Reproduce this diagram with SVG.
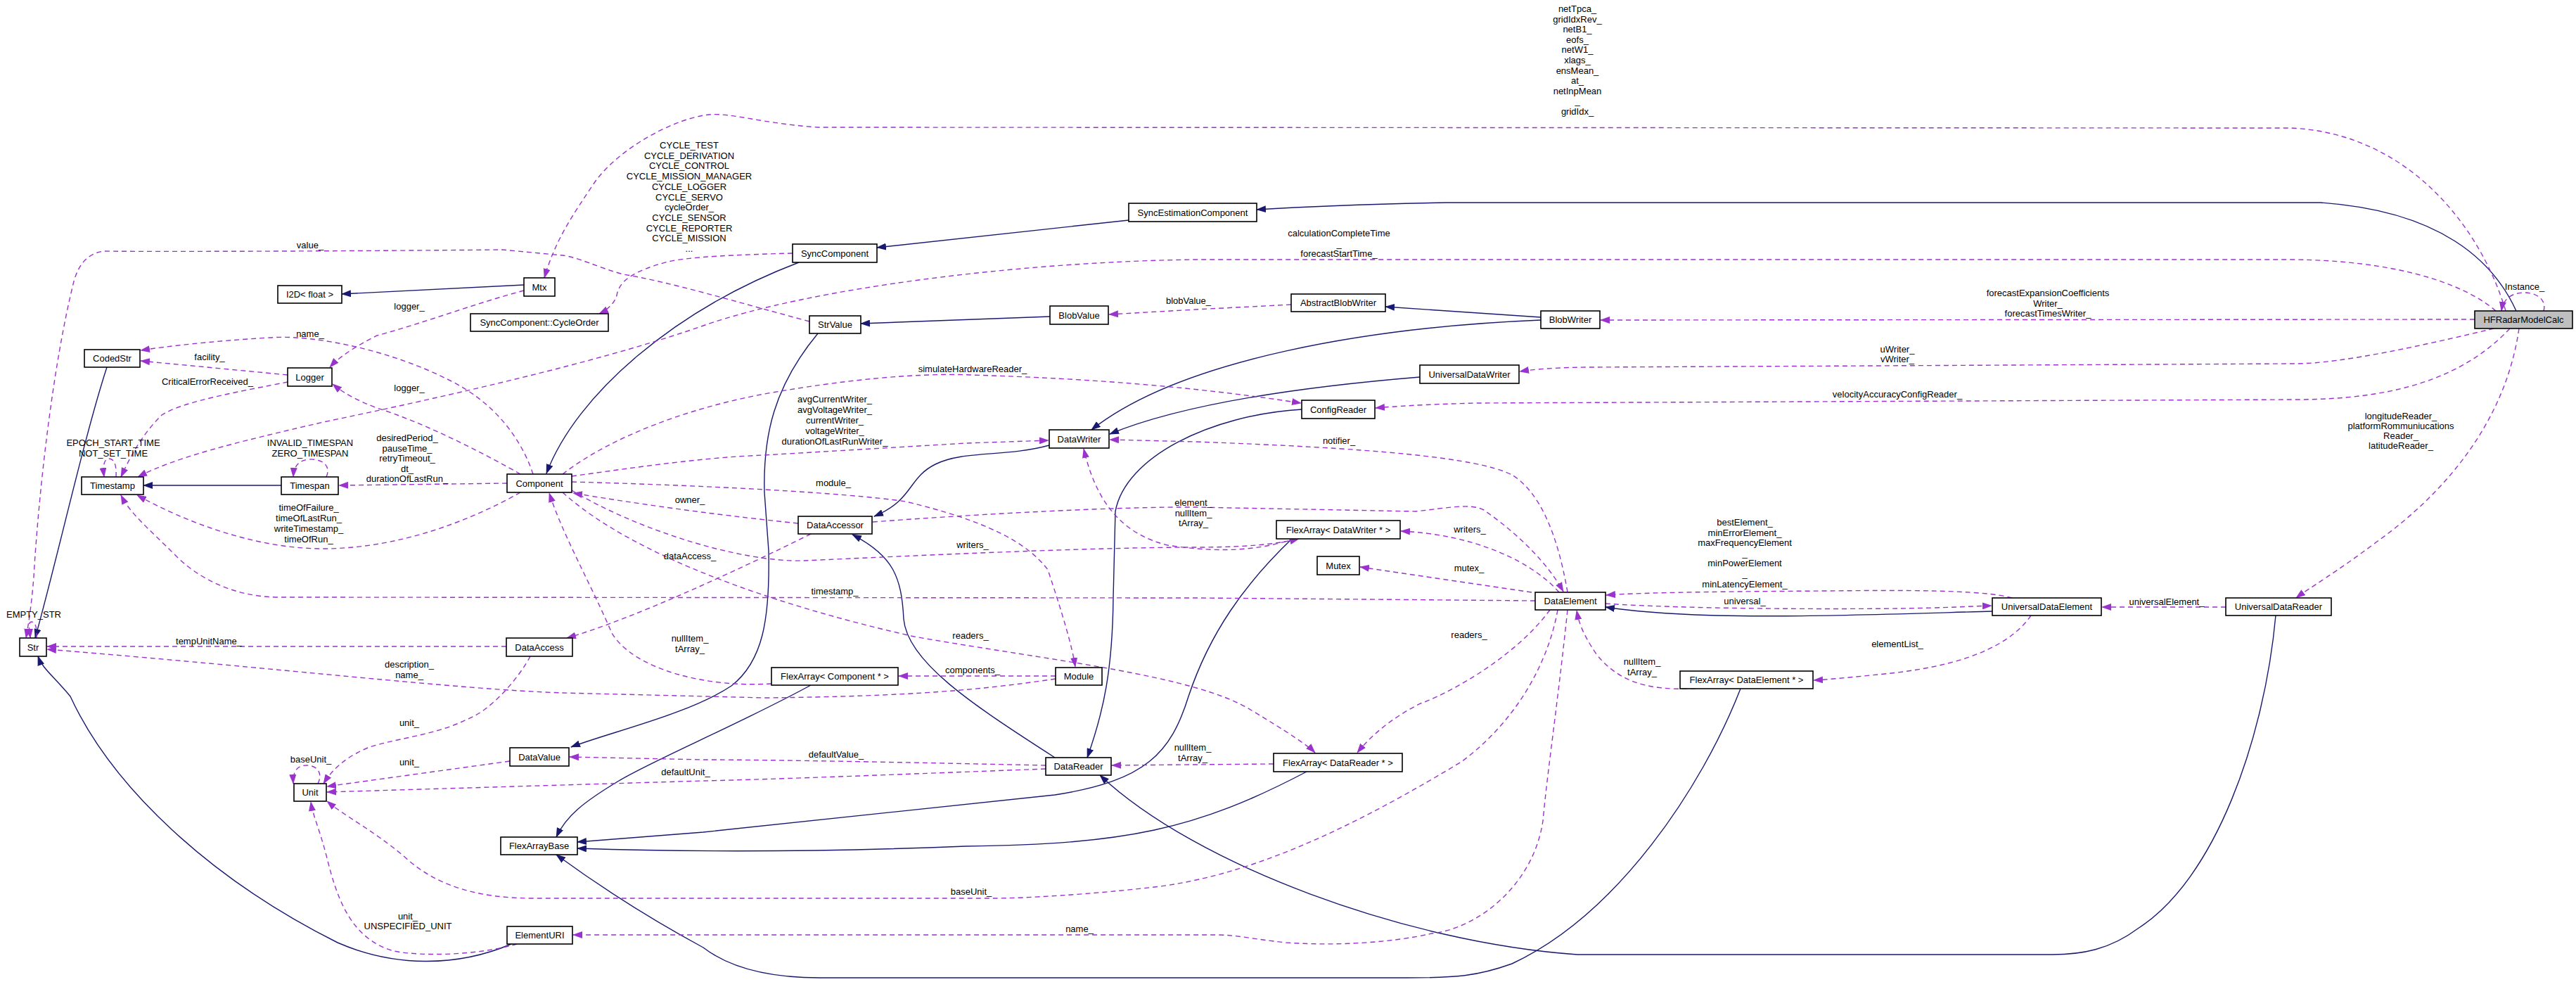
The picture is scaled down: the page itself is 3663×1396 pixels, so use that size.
<svg xmlns="http://www.w3.org/2000/svg" width="3663" height="1396" viewBox="0 0 3663 1396">
<style>
.n rect{fill:#fff;stroke:#000;stroke-width:1.6}
.n.hl rect{fill:#bfbfbf}
text{font-family:"Liberation Sans",Arial,Helvetica,sans-serif;font-size:13px;fill:#000;text-anchor:middle}
.u{fill:none;stroke:#9a32cd;stroke-width:1.4;stroke-dasharray:7,5;marker-end:url(#ap)}
.i{fill:none;stroke:#191970;stroke-width:1.4;marker-end:url(#an)}
</style>
<defs>
<marker id="ap" markerWidth="14" markerHeight="10" refX="13" refY="5" orient="auto" markerUnits="userSpaceOnUse"><path d="M0,0 L14,5 L0,10 z" fill="#9a32cd"/></marker>
<marker id="an" markerWidth="14" markerHeight="10" refX="13" refY="5" orient="auto" markerUnits="userSpaceOnUse"><path d="M0,0 L14,5 L0,10 z" fill="#191970"/></marker>
</defs>
<rect width="3663" height="1396" fill="#fff"/>
<g id="edges">
<path class="i" d="M745,405 L486,418"/>
<path class="i" d="M1605,313 L1247,352"/>
<path class="i" d="M3578,442 C3545,370 3470,300 3300,288 L2057,288 C1950,290 1850,294 1787,298"/>
<path class="i" d="M1136,373 C960,440 820,560 777,673"/>
<path class="i" d="M1163,474 C1100,550 1085,620 1087,700 L1093,783 C1095,880 1085,940 1040,975 C980,1015 870,1040 812,1062"/>
<path class="i" d="M1493,450 L1224,460"/>
<path class="i" d="M2191,451 L1970,436"/>
<path class="i" d="M2191,455 C1950,465 1680,510 1552,611"/>
<path class="i" d="M2019,536 C1850,550 1680,575 1578,617"/>
<path class="i" d="M1851,582 C1720,590 1600,650 1586,727 L1583,850 C1582,950 1570,1010 1546,1077"/>
<path class="i" d="M1492,633 C1430,650 1370,640 1330,660 C1290,680 1300,710 1243,734"/>
<path class="i" d="M1500,1077 C1380,1000 1290,940 1285,880 C1282,820 1270,790 1212,760"/>
<path class="i" d="M1837,766 C1770,830 1720,900 1690,990 C1665,1070 1630,1110 1500,1130 L1000,1183 L821,1197"/>
<path class="i" d="M1858,1097 C1700,1180 1600,1200 1373,1203 C1200,1210 1000,1212 821,1206"/>
<path class="i" d="M1153,974 C1050,1030 930,1080 880,1110 C830,1140 805,1160 791,1190"/>
<path class="i" d="M727,1342 C650,1375 560,1375 480,1340 C300,1250 160,1120 100,990 C75,960 60,950 54,933"/>
<path class="i" d="M152,522 C120,620 80,800 50,907"/>
<path class="i" d="M400,690 L204,690"/>
<path class="i" d="M2475,979 C2420,1120 2300,1300 2150,1370 C2100,1388 2070,1390 2000,1390 L1166,1390 C1080,1390 1030,1370 1000,1347 C950,1320 880,1280 791,1215"/>
<path class="i" d="M3236,875 C3220,1050 3150,1250 3040,1320 C3000,1350 2960,1357 2918,1357 L2243,1357 C2000,1340 1700,1230 1564,1102"/>
<path class="i" d="M2833,869 C2650,874 2420,884 2283,863"/>
<path class="u" d="M3563,442 C3530,330 3430,190 3258,182 L1163,181 C1080,175 1040,160 1008,163 C960,168 880,210 845,260 C815,305 790,340 774,395"/>
<path class="u" d="M3617,442 C3622,425 3605,416 3590,416 C3575,416 3560,422 3557,442"/>
<path class="u" d="M3549,442 C3500,400 3400,370 3258,369 L1700,369 C1450,372 1150,410 1000,463 C880,505 700,550 460,600 C330,630 250,650 196,678"/>
<path class="u" d="M3519,454 L2276,455"/>
<path class="u" d="M3546,467 C3450,490 3330,517 3264,517 L2261,522 C2220,522 2180,525 2161,528"/>
<path class="u" d="M3569,467 C3500,540 3400,568 3264,568 L2100,573 C2020,575 1980,578 1956,580"/>
<path class="u" d="M3582,467 C3560,620 3450,720 3380,770 C3320,815 3285,835 3265,850"/>
<path class="u" d="M3165,863 L2989,863"/>
<path class="u" d="M2861,850 C2820,838 2700,839 2600,840 C2450,841 2340,842 2284,846"/>
<path class="u" d="M2283,858 C2400,866 2600,866 2700,865 C2770,864 2800,862 2832,861"/>
<path class="u" d="M2888,875 C2850,930 2760,950 2680,958 C2630,963 2600,966 2579,967"/>
<path class="u" d="M2411,979 C2338,982 2300,967 2270,930 C2250,900 2245,885 2242,868"/>
<path class="u" d="M2217,842 C2180,800 2100,760 1992,755"/>
<path class="u" d="M2178,842 L1934,806"/>
<path class="u" d="M2229,842 C2215,760 2190,700 2150,675 C2100,650 1950,637 1700,628 L1578,625"/>
<path class="u" d="M2204,867 C2150,940 2050,990 2020,1000 C1980,1020 1950,1045 1930,1070"/>
<path class="u" d="M2183,854 L1700,850 L398,849 C330,849 280,820 250,790 C210,750 185,730 172,704"/>
<path class="u" d="M1241,742 C1400,730 1600,720 1700,721 L2013,727 C2060,722 2090,715 2110,725 C2160,760 2200,800 2223,841"/>
<path class="u" d="M1840,766 C1780,786 1720,784 1660,775 C1600,760 1560,720 1541,638"/>
<path class="u" d="M813,697 C900,750 1050,800 1144,797 C1300,790 1550,778 1700,778 C1760,778 1810,775 1847,766"/>
<path class="u" d="M813,685 C1000,690 1200,700 1288,713 C1400,740 1460,770 1490,810 C1510,870 1525,920 1529,948"/>
<path class="u" d="M1135,744 C1000,730 900,715 815,701"/>
<path class="u" d="M1153,759 C1050,810 900,880 806,907"/>
<path class="u" d="M1097,972 C1000,978 900,950 870,900 C840,830 800,760 781,701"/>
<path class="u" d="M800,700 C900,790 1100,860 1300,905 C1500,940 1700,960 1780,1010 C1830,1040 1860,1060 1870,1070"/>
<path class="u" d="M800,674 C870,620 980,580 1087,560 C1200,540 1300,530 1380,533 C1550,538 1700,550 1850,573"/>
<path class="u" d="M813,677 C900,665 1000,650 1087,647 L1374,630 L1491,626"/>
<path class="u" d="M740,674 C680,640 600,600 536,580 C510,570 490,560 473,546"/>
<path class="u" d="M758,674 C740,620 700,570 638,540 C560,500 450,475 383,480 C300,485 240,492 200,498"/>
<path class="u" d="M745,413 C680,430 600,460 536,477 C500,495 480,510 469,522"/>
<path class="u" d="M409,533 L200,513"/>
<path class="u" d="M409,543 C350,555 260,570 230,590 C200,620 185,650 172,678"/>
<path class="u" d="M165,678 C166,660 162,652 155,652 C148,652 146,662 148,678"/>
<path class="u" d="M464,678 C472,660 455,652 440,653 C425,654 418,662 417,678"/>
<path class="u" d="M721,687 L482,690"/>
<path class="u" d="M740,700 C660,745 560,780 459,780 C360,780 260,740 195,704"/>
<path class="u" d="M1151,457 C1050,430 950,400 886,390 C850,380 820,365 800,363 L714,355 C500,357 200,358 148,357 C125,360 112,375 105,400 C75,520 55,700 48,820 C45,860 40,890 37,907"/>
<path class="u" d="M52,907 C53,892 50,884 45,884 C39,884 42,895 43,907"/>
<path class="u" d="M1127,360 C1050,362 980,365 950,372 C900,385 880,400 877,420 C872,435 860,442 852,446"/>
<path class="u" d="M1836,433 L1700,440 L1577,447"/>
<path class="u" d="M1501,961 L1278,961"/>
<path class="u" d="M1501,965 C1400,980 1300,990 1087,992 L800,985 C650,980 400,950 67,923"/>
<path class="u" d="M720,919 L67,919"/>
<path class="u" d="M754,933 C740,960 700,1010 663,1023 C620,1045 560,1050 523,1063 C495,1075 475,1090 460,1114"/>
<path class="u" d="M452,1114 C460,1098 450,1088 436,1088 C423,1088 416,1096 417,1114"/>
<path class="u" d="M725,1082 L465,1118"/>
<path class="u" d="M1487,1088 C1300,1084 1100,1080 1000,1080 L810,1076"/>
<path class="u" d="M1487,1093 C1300,1100 1100,1108 1000,1110 L465,1126"/>
<path class="u" d="M1811,1086 L1581,1088"/>
<path class="u" d="M2215,867 C2200,950 2150,1030 2078,1083 C1950,1160 1800,1240 1650,1260 C1550,1272 1450,1277 1415,1277 L760,1277 C680,1277 620,1260 574,1217 C530,1180 490,1160 465,1139"/>
<path class="u" d="M2229,867 C2215,1000 2200,1100 2194,1167 C2180,1260 2100,1320 2036,1327 C1980,1340 1900,1345 1829,1340 C1780,1335 1760,1329 1730,1329 L815,1329"/>
<path class="u" d="M735,1342 C680,1358 600,1360 560,1352 C500,1335 480,1280 465,1220 C455,1180 445,1160 442,1140"/>
</g>
<g id="edge-labels">
<text><tspan x="2243" y="17">netTpca_</tspan><tspan x="2243" dy="14.6">gridIdxRev_</tspan><tspan x="2243" dy="14.6">netB1_</tspan><tspan x="2243" dy="14.6">eofs_</tspan><tspan x="2243" dy="14.6">netW1_</tspan><tspan x="2243" dy="14.6">xlags_</tspan><tspan x="2243" dy="14.6">ensMean_</tspan><tspan x="2243" dy="14.6">at_</tspan><tspan x="2243" dy="14.6">netInpMean</tspan><tspan x="2243" dy="14.6">_</tspan><tspan x="2243" dy="14.6">gridIdx_</tspan></text>
<text x="3590" y="412">Instance_</text>
<text><tspan x="1904" y="336">calculationCompleteTime</tspan><tspan x="1904" dy="14.6">_</tspan><tspan x="1904" dy="14.6">forecastStartTime_</tspan></text>
<text><tspan x="2912" y="421">forecastExpansionCoefficients</tspan><tspan x="2912" dy="14.6">Writer_</tspan><tspan x="2912" dy="14.6">forecastTimesWriter_</tspan></text>
<text><tspan x="2698" y="501">uWriter_</tspan><tspan x="2698" dy="14">vWriter_</tspan></text>
<text x="2698" y="565">velocityAccuracyConfigReader_</text>
<text><tspan x="3414" y="596">longitudeReader_</tspan><tspan x="3414" dy="14">platformRommuniucations</tspan><tspan x="3414" dy="14">Reader_</tspan><tspan x="3414" dy="14">latitudeReader_</tspan></text>
<text x="3081" y="860">universalElement_</text>
<text><tspan x="2481" y="747">bestElement_</tspan><tspan x="2481" dy="14.6">minErrorElement_</tspan><tspan x="2481" dy="14.6">maxFrequencyElement</tspan><tspan x="2481" dy="14.6">_</tspan><tspan x="2481" dy="14.6">minPowerElement</tspan><tspan x="2481" dy="14.6">_</tspan><tspan x="2481" dy="14.6">minLatencyElement_</tspan></text>
<text x="2481" y="859">universal_</text>
<text x="2698" y="920">elementList_</text>
<text><tspan x="2335" y="945">nullItem_</tspan><tspan x="2335" dy="14.6">tArray_</tspan></text>
<text x="2090" y="757">writers_</text>
<text x="2089" y="812">mutex_</text>
<text x="1904" y="631">notifier_</text>
<text x="2089" y="907">readers_</text>
<text x="1187" y="845">timestamp_</text>
<text><tspan x="1697" y="719">element_</tspan><tspan x="1697" dy="14.6">nullItem_</tspan><tspan x="1697" dy="14.6">tArray_</tspan></text>
<text x="1383" y="779">writers_</text>
<text x="1185" y="691">module_</text>
<text x="981" y="715">owner_</text>
<text x="981" y="795">dataAccess_</text>
<text><tspan x="981" y="912">nullItem_</tspan><tspan x="981" dy="14.6">tArray_</tspan></text>
<text x="1380" y="908">readers_</text>
<text x="1383" y="957">components_</text>
<text x="1189" y="1077">defaultValue_</text>
<text x="975" y="1102">defaultUnit_</text>
<text><tspan x="1696" y="1067">nullItem_</tspan><tspan x="1696" dy="14.6">tArray_</tspan></text>
<text x="1381" y="1272">baseUnit_</text>
<text x="1535" y="1325">name_</text>
<text x="1383" y="529">simulateHardwareReader_</text>
<text><tspan x="1187" y="572">avgCurrentWriter_</tspan><tspan x="1187" dy="14.9">avgVoltageWriter_</tspan><tspan x="1187" dy="14.9">currentWriter_</tspan><tspan x="1187" dy="14.9">voltageWriter_</tspan><tspan x="1187" dy="14.9">durationOfLastRunWriter_</tspan></text>
<text x="1690" y="432">blobValue_</text>
<text><tspan x="980" y="211">CYCLE_TEST</tspan><tspan x="980" dy="14.7">CYCLE_DERIVATION</tspan><tspan x="980" dy="14.7">CYCLE_CONTROL</tspan><tspan x="980" dy="14.7">CYCLE_MISSION_MANAGER</tspan><tspan x="980" dy="14.7">CYCLE_LOGGER</tspan><tspan x="980" dy="14.7">CYCLE_SERVO</tspan><tspan x="980" dy="14.7">cycleOrder_</tspan><tspan x="980" dy="14.7">CYCLE_SENSOR</tspan><tspan x="980" dy="14.7">CYCLE_REPORTER</tspan><tspan x="980" dy="14.7">CYCLE_MISSION</tspan><tspan x="980" dy="14.7">...</tspan></text>
<text x="441" y="353">value_</text>
<text x="582" y="440">logger_</text>
<text x="441" y="479">name_</text>
<text x="298" y="512">facility_</text>
<text x="295" y="547">CriticalErrorReceived_</text>
<text x="582" y="556">logger_</text>
<text><tspan x="161" y="634">EPOCH_START_TIME</tspan><tspan x="161" dy="14.6">NOT_SET_TIME</tspan></text>
<text><tspan x="441" y="634">INVALID_TIMESPAN</tspan><tspan x="441" dy="14.6">ZERO_TIMESPAN</tspan></text>
<text><tspan x="579" y="627">desiredPeriod_</tspan><tspan x="579" dy="14.6">pauseTime_</tspan><tspan x="579" dy="14.6">retryTimeout_</tspan><tspan x="579" dy="14.6">dt_</tspan><tspan x="579" dy="14.6">durationOfLastRun_</tspan></text>
<text><tspan x="439" y="726">timeOfFailure_</tspan><tspan x="439" dy="14.9">timeOfLastRun_</tspan><tspan x="439" dy="14.9">writeTimestamp_</tspan><tspan x="439" dy="14.9">timeOfRun_</tspan></text>
<text x="48" y="878">EMPTY_STR</text>
<text x="297" y="916">tempUnitName_</text>
<text><tspan x="582" y="949">description_</tspan><tspan x="582" dy="14.6">name_</tspan></text>
<text x="582" y="1032">unit_</text>
<text x="442" y="1084">baseUnit_</text>
<text x="582" y="1088">unit_</text>
<text><tspan x="580" y="1307">unit_</tspan><tspan x="580" dy="13.5">UNSPECIFIED_UNIT</tspan></text>
</g>
<g id="node-Mtx" class="n"><rect x="745" y="395" width="44" height="26"/><text x="767" y="412.5">Mtx</text></g>
<g id="node-I2D" class="n"><rect x="395" y="406" width="91" height="25"/><text x="440.5" y="423">I2D&lt; float &gt;</text></g>
<g id="node-CycleOrder" class="n"><rect x="669" y="446" width="196" height="25"/><text x="767" y="463">SyncComponent::CycleOrder</text></g>
<g id="node-CodedStr" class="n"><rect x="120" y="497" width="79" height="25"/><text x="159.5" y="514">CodedStr</text></g>
<g id="node-Logger" class="n"><rect x="409" y="523" width="63" height="26"/><text x="440.5" y="540.5">Logger</text></g>
<g id="node-Timestamp" class="n"><rect x="116" y="678" width="88" height="25"/><text x="160" y="695">Timestamp</text></g>
<g id="node-Timespan" class="n"><rect x="400" y="678" width="81" height="25"/><text x="440.5" y="695">Timespan</text></g>
<g id="node-Component" class="n"><rect x="721" y="674" width="92" height="26"/><text x="767" y="691.5">Component</text></g>
<g id="node-Str" class="n"><rect x="28" y="907" width="38" height="26"/><text x="47" y="924.5">Str</text></g>
<g id="node-DataAccess" class="n"><rect x="720" y="907" width="94" height="26"/><text x="767" y="924.5">DataAccess</text></g>
<g id="node-Unit" class="n"><rect x="418" y="1114" width="46" height="25"/><text x="441" y="1131">Unit</text></g>
<g id="node-DataValue" class="n"><rect x="725" y="1063" width="84" height="26"/><text x="767" y="1080.5">DataValue</text></g>
<g id="node-FlexArrayBase" class="n"><rect x="712" y="1190" width="109" height="25"/><text x="766.5" y="1207">FlexArrayBase</text></g>
<g id="node-ElementURI" class="n"><rect x="721" y="1317" width="93" height="25"/><text x="767.5" y="1334">ElementURI</text></g>
<g id="node-SyncComponent" class="n"><rect x="1127" y="347" width="120" height="26"/><text x="1187" y="364.5">SyncComponent</text></g>
<g id="node-SyncEstimationComponent" class="n"><rect x="1605" y="289" width="182" height="26"/><text x="1696" y="306.5">SyncEstimationComponent</text></g>
<g id="node-StrValue" class="n"><rect x="1151" y="449" width="73" height="25"/><text x="1187.5" y="466">StrValue</text></g>
<g id="node-BlobValue" class="n"><rect x="1493" y="435" width="83" height="26"/><text x="1534.5" y="452.5">BlobValue</text></g>
<g id="node-DataWriter" class="n"><rect x="1492" y="611" width="85" height="26"/><text x="1534.5" y="628.5">DataWriter</text></g>
<g id="node-DataAccessor" class="n"><rect x="1135" y="734" width="105" height="25"/><text x="1187.5" y="751">DataAccessor</text></g>
<g id="node-FlexArrayComponent" class="n"><rect x="1097" y="949" width="180" height="25"/><text x="1187" y="966">FlexArray&lt; Component * &gt;</text></g>
<g id="node-Module" class="n"><rect x="1501" y="949" width="66" height="25"/><text x="1534" y="966">Module</text></g>
<g id="node-DataReader" class="n"><rect x="1487" y="1077" width="93" height="25"/><text x="1533.5" y="1094">DataReader</text></g>
<g id="node-FlexArrayDataReader" class="n"><rect x="1811" y="1071" width="183" height="26"/><text x="1902.5" y="1088.5">FlexArray&lt; DataReader * &gt;</text></g>
<g id="node-AbstractBlobWriter" class="n"><rect x="1836" y="418" width="134" height="25"/><text x="1903" y="435">AbstractBlobWriter</text></g>
<g id="node-BlobWriter" class="n"><rect x="2191" y="442" width="84" height="25"/><text x="2233" y="459">BlobWriter</text></g>
<g id="node-UniversalDataWriter" class="n"><rect x="2019" y="519" width="141" height="26"/><text x="2089.5" y="536.5">UniversalDataWriter</text></g>
<g id="node-ConfigReader" class="n"><rect x="1851" y="569" width="104" height="26"/><text x="1903" y="586.5">ConfigReader</text></g>
<g id="node-FlexArrayDataWriter" class="n"><rect x="1815" y="740" width="176" height="26"/><text x="1903" y="757.5">FlexArray&lt; DataWriter * &gt;</text></g>
<g id="node-Mutex" class="n"><rect x="1873" y="791" width="60" height="26"/><text x="1903" y="808.5">Mutex</text></g>
<g id="node-DataElement" class="n"><rect x="2183" y="842" width="100" height="25"/><text x="2233" y="859">DataElement</text></g>
<g id="node-FlexArrayDataElement" class="n"><rect x="2389" y="954" width="189" height="25"/><text x="2483.5" y="971">FlexArray&lt; DataElement * &gt;</text></g>
<g id="node-UniversalDataElement" class="n"><rect x="2833" y="850" width="155" height="25"/><text x="2910.5" y="867">UniversalDataElement</text></g>
<g id="node-UniversalDataReader" class="n"><rect x="3165" y="850" width="150" height="25"/><text x="3240" y="867">UniversalDataReader</text></g>
<g id="node-HFRadarModelCalc" class="n hl"><rect x="3519" y="442" width="139" height="25"/><text x="3588.5" y="459">HFRadarModelCalc</text></g>
</svg>
